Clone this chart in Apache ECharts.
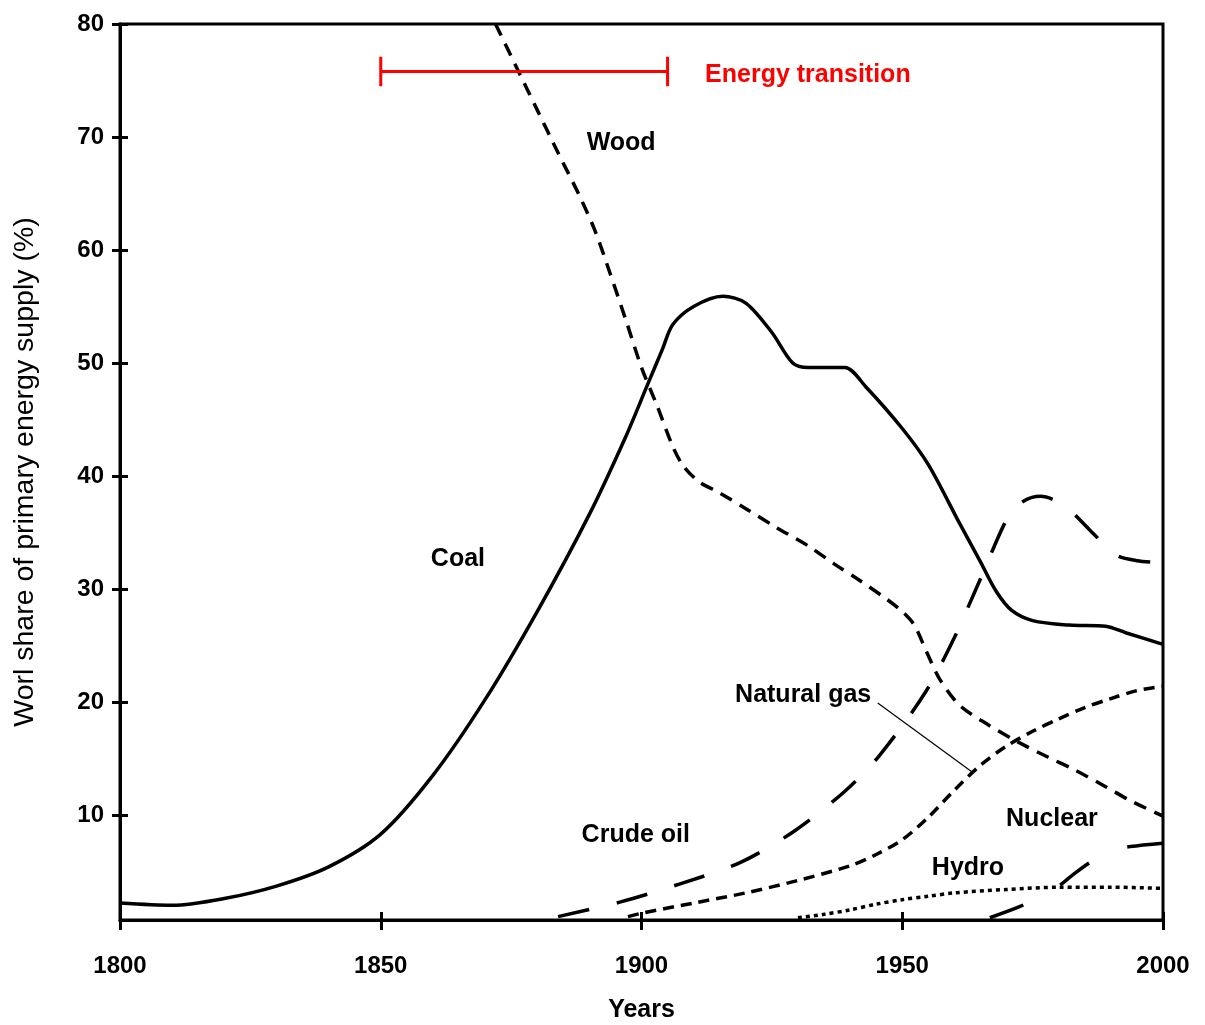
<!DOCTYPE html>
<html>
<head>
<meta charset="utf-8">
<script src="https://cdn.jsdelivr.net/npm/echarts@6/dist/echarts.min.js"></script>
<style>
	html, body { margin: 0; background: #fff; }
	#chart { width: 1205px; height: 1025px; }
</style>
</head>
<body>
<div id="chart"></div>
<script>
	// [year, share %]
	var coal = [[1800, 2.2], [1810, 2.0], [1820, 2.6], [1830, 3.7], [1840, 5.4], [1850, 8.3], [1860, 13.5], [1870, 20.2],
		[1880, 28.0], [1890, 36.6], [1897, 43.5], [1901, 47.9], [1904, 51.2], [1906, 53.4], [1910, 55.0], [1915.6, 55.9],
		[1920, 55.3], [1925, 52.7], [1929, 50.0], [1932, 49.6], [1939, 49.6], [1943, 47.9], [1950, 44.2], [1955, 41.0],
		[1961, 35.8], [1965, 32.4], [1968, 29.8], [1971, 28.1], [1975, 27.2], [1982, 26.8], [1989, 26.7], [1993, 26.1],
		[2000, 25.1]];
	var wood = [[1872, 80], [1876, 76.2], [1880, 72.4], [1884, 68.6], [1888, 64.9], [1891, 61.8], [1894, 57.9],
		[1897, 53.8], [1900, 49.6], [1903, 46.2], [1906, 42.6], [1908, 40.9], [1911, 39.5], [1915, 38.5], [1920, 37.1],
		[1926, 35.4], [1932, 33.8], [1937, 32.2], [1942, 30.7], [1947, 29.1], [1950, 28.0], [1952.3, 26.8],
		[1954.7, 24.4], [1957.2, 22.0], [1961, 19.7], [1966.4, 18.0], [1972, 16.5], [1978, 15.1], [1983, 14.0],
		[1989, 12.5], [1994, 11.2], [2000, 9.9]];
	var crudeOil = [[1884, 1.0], [1896, 2.3], [1907.4, 3.9], [1919, 5.8], [1929.4, 8.6], [1939, 12.1], [1945.7, 15.3],
		[1954.5, 20.9], [1960, 25.7], [1965, 30.9], [1970.3, 36.4], [1973, 37.7], [1976.5, 38.2], [1981, 37.4],
		[1986, 35.2], [1991, 33.0], [1995, 32.5], [2000, 32.3]];
	var naturalGas = [[1897.4, 1.0], [1900, 1.3], [1910, 2.2], [1920, 3.1], [1930, 4.2], [1940, 5.5], [1945, 6.5],
		[1950, 7.8], [1955, 9.8], [1960, 12.2], [1965, 14.4], [1970, 16.1], [1975, 17.4], [1980, 18.5], [1985, 19.5],
		[1990, 20.3], [1995, 21.0], [2000, 21.4]];
	var hydro = [[1930, 0.9], [1935, 1.2], [1940, 1.6], [1945, 2.1], [1950, 2.5], [1955, 2.8], [1960, 3.1],
		[1970, 3.4], [1980, 3.6], [1990, 3.6], [2000, 3.5]];
	var nuclear = [[1966.8, 0.9], [1972.6, 1.9], [1976, 2.7], [1979.7, 3.6], [1983, 4.8], [1986, 5.8], [1989.5, 6.8],
		[1993.7, 7.2], [2000, 7.5]];

	// energy transition bracket 1850-1905 and the natural gas pointer
	var transition = [[1850, 77.1], [1850, 74.5], [1850, 75.8], [1905, 75.8], [1905, 77.1], [1905, 74.5]];
	var gasPointer = [[1945.3, 19.9], [1963.4, 13.8]];

	var yTicks = [10, 20, 30, 40, 50, 60, 70, 80];
	var labelSpots = [
		{ name: 'Wood', value: [1896.1, 69.5] },
		{ name: 'Coal', value: [1864.8, 32.6] },
		{ name: 'Natural gas', value: [1931.0, 20.6] },
		{ name: 'Crude oil', value: [1898.9, 8.2] },
		{ name: 'Nuclear', value: [1978.7, 9.6] },
		{ name: 'Hydro', value: [1962.6, 5.3] }
	];
	var transitionLabel = [{ name: 'Energy transition', value: [1931.9, 75.5] }];

	var font = "'Liberation Sans', Arial, sans-serif";

	function curve(name, data, dash, width) {
		return {
			name: name,
			type: 'line',
			data: data,
			showSymbol: false,
			smooth: 0.3,
			lineStyle: { color: '#000', width: width || 3.5, type: dash, cap: 'butt' },
			z: 3
		};
	}

	// scatter points with no size, only their labels show
	function textMarks(data, color) {
		return {
			type: 'scatter', data: data, symbolSize: 0, z: 5,
			itemStyle: { opacity: 1 },
			label: {
				show: true, position: 'inside', formatter: '{b}', opacity: 1,
				color: color, fontSize: 25, fontWeight: 'bold', fontFamily: font,
				textBorderWidth: 0, textBorderColor: 'transparent'
			}
		};
	}

	var chart = echarts.init(document.getElementById('chart'));
	chart.setOption({
		animation: false,
		grid: {
			left: 120, right: 42, top: 24, bottom: 105,
			outerBoundsMode: 'none', containLabel: false,
			show: true, borderColor: '#000', borderWidth: 3
		},
		xAxis: [{
			type: 'value', min: 1800, max: 2000, interval: 50,
			axisLine: { onZero: false, lineStyle: { color: '#000', width: 3 } },
			axisTick: { length: 10, lineStyle: { color: '#000', width: 3 } },
			splitLine: { show: false },
			axisLabel: {
				color: '#000', fontSize: 24, fontWeight: 'bold', fontFamily: font, margin: 34,
				formatter: function (v) { return String(v); }
			},
			name: 'Years', nameLocation: 'middle', nameGap: 78,
			nameTextStyle: { color: '#000', fontSize: 25, fontWeight: 'bold', fontFamily: font }
		}, {
			type: 'value', min: 1800, max: 2000, interval: 50, position: 'bottom',
			axisLine: { show: false, onZero: false },
			axisTick: { inside: true, length: 8, lineStyle: { color: '#000', width: 3 } },
			splitLine: { show: false },
			axisLabel: { show: false }
		}],
		yAxis: [{
			type: 'value', min: 0.7, max: 80,
			axisLine: { show: true, onZero: false, lineStyle: { color: '#000', width: 3 } },
			axisTick: { show: true, length: 8, customValues: yTicks, lineStyle: { color: '#000', width: 3 } },
			splitLine: { show: false },
			axisLabel: { color: '#000', fontSize: 24, fontWeight: 'bold', fontFamily: font, margin: 16, customValues: yTicks },
			name: 'Worl share of primary energy supply (%)', nameLocation: 'middle', nameGap: 80, nameRotate: 90,
			nameTextStyle: { color: '#000', fontSize: 28.5, fontFamily: font }
		}, {
			type: 'value', min: 0.7, max: 80, position: 'left',
			axisLine: { show: false, onZero: false },
			axisTick: { show: true, inside: true, length: 8, customValues: yTicks, lineStyle: { color: '#000', width: 3 } },
			splitLine: { show: false },
			axisLabel: { show: false, customValues: yTicks }
		}],
		series: [
			curve('Coal', coal, 'solid', 3.5),
			curve('Wood', wood, [13, 9]),
			curve('Crude oil', crudeOil, [32, 28]),
			curve('Natural gas', naturalGas, [11, 7]),
			curve('Hydro', hydro, [4, 4]),
			curve('Nuclear', nuclear, [36, 42]),
			{
				type: 'line', data: transition, showSymbol: false,
				lineStyle: { color: '#ff0000', width: 3 }, z: 4
			},
			{
				type: 'line', data: gasPointer, showSymbol: false,
				lineStyle: { color: '#000', width: 1.2 }, z: 2
			},
			textMarks(labelSpots, '#000'),
			textMarks(transitionLabel, '#ff0000')
		]
	});
</script>
</body>
</html>
